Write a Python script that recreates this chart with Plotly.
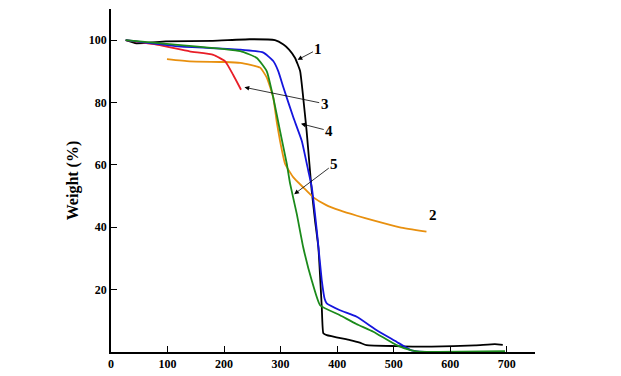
import plotly.graph_objects as go

# Curve 1 (black)
x1 = [26, 45, 97, 180, 245, 290, 305, 315, 325.6, 334.5, 340, 346, 351, 355, 361, 366.8, 372.8, 375.6, 381.6, 422.8, 440, 452, 504, 567, 644, 679, 693]
y1 = [100, 99.0, 99.6, 99.8, 100.3, 100.0, 98.6, 97.0, 94.3, 90.1, 81.6, 70.9, 60.3, 51.8, 42.0, 33.6, 14.5, 6.0, 5.4, 3.8, 3.0, 2.2, 1.9, 1.7, 2.1, 2.5, 2.3]
# Curve 2 (orange)
x2 = [99, 139, 200, 228.7, 263.8, 275.6, 287, 293, 299, 308, 322.6, 340, 358, 380, 405, 435, 464, 511, 558]
y2 = [93.9, 93.2, 93.0, 92.7, 91.2, 88.0, 81.6, 74.0, 67.7, 60.3, 56.0, 52.8, 49.6, 47.2, 45.4, 43.7, 42.2, 40.0, 38.6]
# Curve 3 (red)
x3 = [26, 83, 139, 181, 202, 216, 230]
y3 = [100, 98.5, 96.4, 95.3, 93.2, 88.9, 84.1]
# Curve 4 (blue)
x4 = [26, 118, 228.7, 269.6, 287, 296, 305, 322.6, 337.5, 349, 355, 364, 372.8, 378, 381.6, 405, 434.6, 470, 505, 530, 546, 600, 660]
y4 = [100, 98.0, 97.0, 96.0, 93.3, 90.0, 84.8, 75.2, 67.7, 58.1, 53.0, 39.0, 23.0, 17.0, 15.6, 13.4, 11.3, 7.0, 3.3, 0.6, 0.1, 0.0, 0.0]
# Curve 5 (green)
x5 = [26, 118, 228.7, 258, 275.6, 287, 299, 311, 316.8, 328.6, 340, 355, 369.8, 405, 434, 464, 505, 530, 546, 620, 697]
y5 = [100, 98.5, 96.5, 94.3, 90.0, 81.6, 70.9, 60.3, 54.0, 44.3, 33.6, 23.0, 15.0, 11.8, 9.0, 6.5, 2.2, 0.6, 0.1, 0.1, 0.3]

x_ticks = [0, 100, 200, 300, 400, 500, 600, 700]
y_ticks = [20, 40, 60, 80, 100]

series = [
    (x1, y1, "#000000"),
    (x2, y2, "#E8900F"),
    (x3, y3, "#E81E28"),
    (x4, y4, "#1515DD"),
    (x5, y5, "#1B8A1B"),
]

fig = go.Figure()
for xs, ys, c in series:
    fig.add_trace(go.Scatter(x=xs, y=ys, mode="lines", line=dict(color=c, width=1.8, shape="spline", smoothing=0.4),
                             showlegend=False, hoverinfo="skip"))

font_lbl = dict(family="Liberation Serif", size=15, color="black")
arrows = [
    ("1", 330, 93.7, 367, 97.2),
    ("3", 236, 84.9, 378, 79.6),
    ("4", 336, 73.2, 386, 70.9),
    ("5", 324, 50.6, 395, 60.3),
]
for t, x, y, ax, ay in arrows:
    fig.add_annotation(x=x, y=y, ax=ax, ay=ay, xref="x", yref="y", axref="x", ayref="y",
                       text="<b>%s</b>" % t, showarrow=True, arrowhead=2, arrowsize=1.2,
                       arrowwidth=0.8, arrowcolor="black", font=font_lbl)
fig.add_annotation(x=570, y=43.9, xref="x", yref="y", text="<b>2</b>", showarrow=False, font=font_lbl)

fig.update_layout(
    width=613, height=368,
    margin=dict(l=103, r=86, t=1, b=24, autoexpand=False),
    paper_bgcolor="white", plot_bgcolor="white",
    font=dict(family="Liberation Serif", color="black"),
)
fig.update_xaxes(range=[0, 750], tickvals=x_ticks, ticktext=[str(v) for v in x_ticks], automargin=False,
                 showline=True, linecolor="black", linewidth=1.5, ticks="inside", ticklen=6,
                 tickcolor="black", tickwidth=1, showgrid=False, zeroline=False,
                 tickfont=dict(family="Liberation Serif", size=12, color="black", weight="bold"))
fig.update_yaxes(range=[0, 110], tickvals=y_ticks, ticktext=[str(v) for v in y_ticks], automargin=False,
                 showline=True, linecolor="black", linewidth=1.5, ticks="inside", ticklen=6,
                 tickcolor="black", tickwidth=1, showgrid=False, zeroline=False,
                 title=dict(text="<b>Weight (%)</b>", font=dict(family="Liberation Serif", size=16, color="black"), standoff=6),
                 tickfont=dict(family="Liberation Serif", size=12, color="black", weight="bold"))

fig.write_html("out.html")
